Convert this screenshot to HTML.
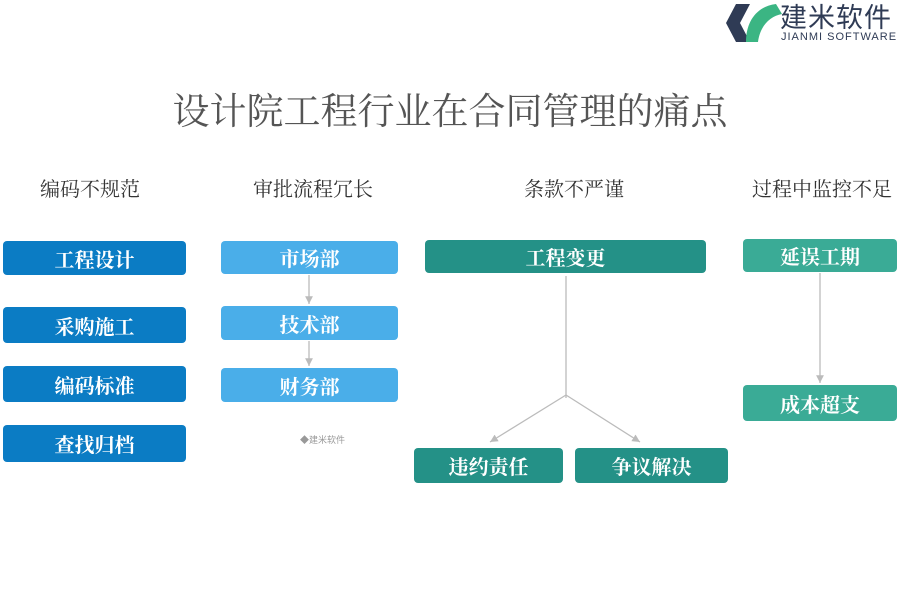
<!DOCTYPE html>
<html><head><meta charset="utf-8"><style>
body{margin:0;width:900px;height:600px;background:#fff;position:relative;overflow:hidden;font-family:"Liberation Serif","Noto Serif CJK SC",serif}
.b{position:absolute;color:#fff;font-size:20px;font-weight:bold;display:flex;align-items:center;justify-content:center;border-radius:4px}
.h{position:absolute;top:173px;font-size:20px;color:#333;white-space:nowrap}
.c1{background:#0b7cc4}.c2{background:#4aaee9}.c3{background:#249187}.c4{background:#3aab96}
</style></head><body>
<div style="position:absolute;left:0;width:900px;top:91px;text-align:center;font-size:37px;color:#555;line-height:44px">设计院工程行业在合同管理的痛点</div>
<svg style="position:absolute;left:724px;top:2px" width="60" height="42"><polygon points="12,2 26,2 16,21 26,40 12,40 2,21" fill="#2f3b55"/><path d="M22,40 C22,18 34,4 52,2 L58,12 C46,14 36,24 34,40Z" fill="#3bb583"/></svg>
<div style="position:absolute;left:780px;top:-4px;font-size:27px;color:#2f3b55;font-family:'Noto Sans CJK SC',sans-serif;letter-spacing:1px;white-space:nowrap">建米软件</div>
<div style="position:absolute;left:781px;top:31px;font-size:11px;color:#2f3b55;font-family:'Liberation Sans',sans-serif;letter-spacing:1px;white-space:nowrap">JIANMI SOFTWARE</div>
<div class="h" style="left:40px">编码不规范</div>
<div class="h" style="left:253px">审批流程冗长</div>
<div class="h" style="left:524px">条款不严谨</div>
<div class="h" style="left:752px">过程中监控不足</div>
<div class="b c1" style="left:3px;top:241px;width:183px;height:34px">工程设计</div>
<div class="b c1" style="left:3px;top:307px;width:183px;height:36px">采购施工</div>
<div class="b c1" style="left:3px;top:366px;width:183px;height:36px">编码标准</div>
<div class="b c1" style="left:3px;top:425px;width:183px;height:37px">查找归档</div>
<div class="b c2" style="left:221px;top:241px;width:177px;height:33px">市场部</div>
<div class="b c2" style="left:221px;top:306px;width:177px;height:34px">技术部</div>
<div class="b c2" style="left:221px;top:368px;width:177px;height:34px">财务部</div>
<div style="position:absolute;left:300px;top:433px;font-size:9px;color:#999;font-family:'Noto Sans CJK SC',sans-serif">◆建米软件</div>
<div class="b c3" style="left:425px;top:240px;width:281px;height:33px">工程变更</div>
<div class="b c3" style="left:414px;top:448px;width:149px;height:35px">违约责任</div>
<div class="b c3" style="left:575px;top:448px;width:153px;height:35px">争议解决</div>
<div class="b c4" style="left:743px;top:239px;width:154px;height:33px">延误工期</div>
<div class="b c4" style="left:743px;top:385px;width:154px;height:36px">成本超支</div>
<svg style="position:absolute;left:0;top:0" width="900" height="600" fill="none" stroke="#bbb" stroke-width="1.3">
<defs><marker id="a" markerWidth="8" markerHeight="8" refX="6" refY="4" orient="auto"><path d="M0,1 L6,4 L0,7Z" fill="#bbb" stroke="none"/></marker></defs>
<line x1="309" y1="275" x2="309" y2="304" marker-end="url(#a)"/>
<line x1="309" y1="341" x2="309" y2="366" marker-end="url(#a)"/>
<line x1="566" y1="276" x2="566" y2="398"/>
<line x1="566" y1="395" x2="490" y2="442" marker-end="url(#a)"/>
<line x1="566" y1="395" x2="640" y2="442" marker-end="url(#a)"/>
<line x1="820" y1="273" x2="820" y2="383" marker-end="url(#a)"/>
</svg>
</body></html>
